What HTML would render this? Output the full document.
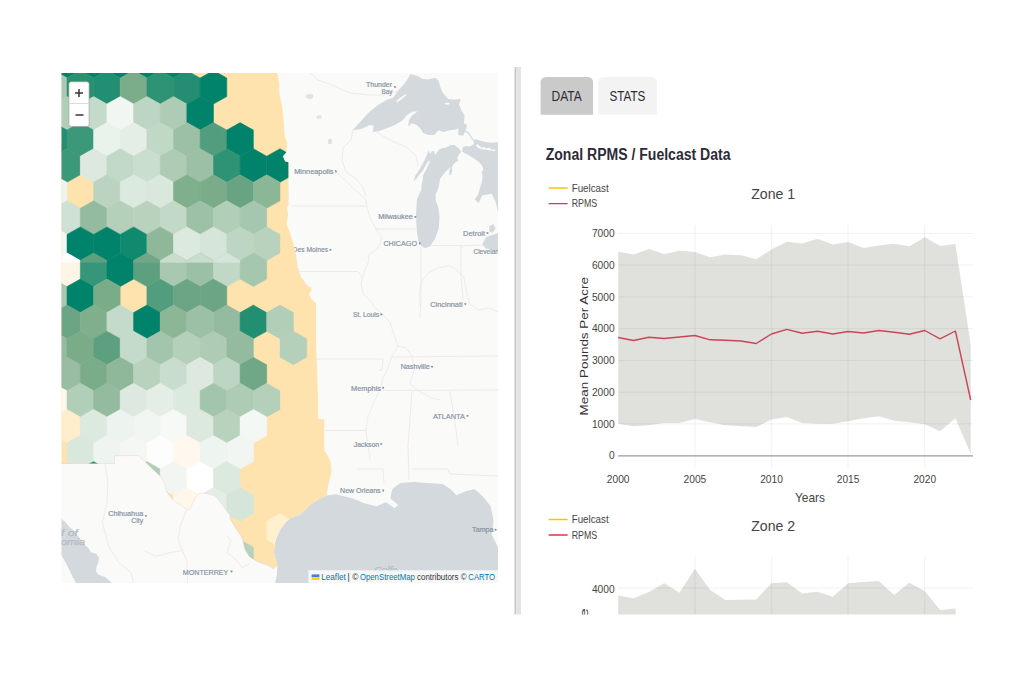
<!DOCTYPE html>
<html><head><meta charset="utf-8"><title>Zonal RPMS / Fuelcast</title>
<style>
html,body{margin:0;padding:0;background:#fff;}
body{width:1024px;height:683px;overflow:hidden;position:relative;font-family:"Liberation Sans",sans-serif;}
svg{position:absolute;left:0;top:0;}
text{font-family:"Liberation Sans",sans-serif;}
</style></head><body>

<svg width="1024" height="683" viewBox="0 0 1024 683">
<defs><clipPath id="mapclip"><rect x="61.5" y="73" width="436.6" height="509.9"/></clipPath>
<clipPath id="usclip"><polygon points="61.0,72.0 277.1,72.0 279.1,82.4 279.5,94.6 281.9,104.9 282.8,112.4 283.8,123.6 284.7,137.0 285.1,137.0 287.0,142.6 286.7,150.0 286.1,152.4 282.8,156.2 285.1,161.4 288.4,162.3 288.4,177.3 288.6,190.0 288.6,206.0 287.0,206.9 288.1,214.4 286.7,223.7 289.1,230.3 291.5,237.7 293.8,245.5 295.8,253.4 297.7,267.5 300.9,276.9 303.4,280.0 307.2,285.6 311.4,288.0 311.4,290.3 309.1,294.5 311.9,299.7 316.1,303.4 316.1,344.0 318.1,400.0 318.1,418.7 324.2,419.2 324.2,450.6 327.5,455.3 330.9,463.2 331.5,471.4 329.1,481.9 327.4,490.1 326.8,495.4 319.2,498.9 311.0,504.2 305.1,510.0 300.0,514.4 295.8,515.9 290.3,517.9 285.6,522.6 280.9,528.4 277.4,535.5 275.1,542.5 273.9,551.9 275.6,558.9 277.4,565.9 273.9,568.8 266.9,564.7 259.8,562.4 254.0,559.5 249.3,556.5 245.2,549.5 242.8,540.1 240.5,534.9 235.2,527.2 230.5,519.0 230.0,515.3 223.7,506.5 219.3,500.6 214.9,495.5 209.1,494.0 201.7,492.6 198.1,494.0 194.4,499.2 190.0,508.7 187.1,509.4 179.8,504.3 172.5,499.2 166.6,491.9 165.1,483.1 160.0,475.7 152.0,468.4 144.6,461.1 138.8,455.5 114.4,455.6 114.4,463.5 61.0,463.5"/></clipPath></defs>
<g clip-path="url(#mapclip)">
<rect x="61" y="72" width="438" height="512" fill="#FAFAF8"/>
<polygon points="353.3,129.6 360.4,121.7 368.2,113.1 377.6,105.3 387.0,99.8 393.3,97.4 398.0,90.4 402.7,85.7 407.4,79.4 410.5,73.9 418.4,76.3 421.5,78.6 427.8,79.4 435.6,77.8 438.7,81.0 440.3,87.2 443.4,93.5 448.2,99.0 454.4,99.8 460.7,99.0 459.1,104.5 461.5,110.8 464.6,115.5 463.8,123.3 467.0,124.9 465.4,131.1 463.0,135.8 458.3,135.0 458.3,128.0 456.0,129.6 449.7,130.3 443.4,131.9 438.7,130.3 434.0,135.0 427.8,135.0 423.1,132.7 419.9,128.0 416.8,124.9 412.1,123.3 408.2,126.4 409.0,120.2 412.1,115.5 417.6,111.5 412.9,111.5 407.4,114.7 402.7,120.2 394.9,124.9 385.5,128.8 379.2,131.1 372.9,131.9 373.7,125.6 369.8,124.9 361.9,128.8 353.3,130.3" fill="#D3D9DC"/>
<polygon points="428.7,150.2 425.4,158.1 423.6,161.9 420.7,167.5 417.9,172.2 415.1,175.9 413.7,181.1 416.1,179.2 419.3,174.5 422.2,171.2 425.4,166.1 428.2,161.4 430.1,160.0 429.4,162.8 426.8,168.4 424.5,172.7 422.8,175.9 423.1,178.7 421.7,184.4 421.2,190.0 419.3,194.0 416.8,200.0 416.0,215.7 416.8,231.3 418.4,240.8 421.5,246.2 425.4,248.3 430.1,246.2 434.8,239.2 438.8,228.2 439.5,215.7 438.0,206.3 435.6,200.0 435.7,194.0 437.2,190.9 438.6,187.2 439.5,182.5 440.0,178.7 442.3,175.9 445.1,172.2 447.9,169.4 450.3,166.6 449.3,170.3 449.3,174.5 450.7,175.0 452.2,171.2 451.7,167.5 453.1,164.7 455.4,162.3 458.2,160.9 457.3,157.2 459.2,154.4 461.1,151.6 458.2,147.8 454.5,145.0 450.7,145.0 447.0,147.3 442.3,148.3 439.5,149.2 437.2,152.0 434.8,155.3 434.3,151.6 432.0,151.1 430.1,154.2" fill="#D3D9DC"/>
<polygon points="462.9,146.9 462.0,151.6 467.6,154.4 473.2,158.1 478.9,161.9 482.6,166.6 483.6,170.3 481.7,171.2 482.6,176.9 481.7,182.5 479.8,188.1 478.4,194.0 474.8,199.4 478.5,203.1 482.2,195.6 491.6,193.8 495.4,201.2 498.6,214.0 498.6,142.2 492.0,142.7 486.4,142.2 478.9,140.3 476.1,139.4 473.2,139.7 474.0,144.0 470.0,146.5 466.0,146.0" fill="#D3D9DC"/>
<polygon points="489.5,226.0 493.5,224.0 495.5,229.0 492.0,233.0 489.0,231.0" fill="#D3D9DC"/>
<polygon points="482.2,244.4 486.0,236.9 498.5,233.0 498.5,251.0 486.0,248.5" fill="#D3D9DC"/>
<polygon points="326.8,495.4 335.6,494.2 342.6,496.0 352.1,498.2 364.2,503.2 376.2,506.2 386.3,502.2 394.3,508.2 398.3,505.2 390.3,498.2 392.3,489.1 400.3,483.1 414.3,482.1 426.4,483.1 442.4,484.1 450.5,489.1 456.5,495.2 466.5,491.1 474.5,489.1 482.6,496.2 490.6,506.2 493.6,520.2 491.6,534.3 498.5,548.3 498.5,584.0 275.0,584.0 276.8,575.3 277.4,565.9 275.6,558.9 273.9,551.9 275.1,542.5 277.4,535.5 280.9,528.4 285.6,522.6 290.3,517.9 295.8,515.9 300.0,514.4 305.1,510.0 311.0,504.2 319.2,498.9" fill="#D3D9DC"/>
<polygon points="61.0,518.6 65.6,522.2 69.4,526.9 75.0,531.6 78.8,537.2 84.4,544.7 88.1,547.5 90.9,552.2 96.6,554.0 98.9,557.8 98.4,562.5 96.6,566.2 96.1,570.9 98.0,574.5 105.1,577.0 113.0,584.0 76.5,584.0 71.2,574.0 69.4,570.0 65.6,562.5 61.0,554.5" fill="#D3D9DC"/>
<path d="M465.4 131.1 L469 133.5 L471 137 L473.2 139.9" fill="none" stroke="#D3D9DC" stroke-width="1.3"/>
<ellipse cx="309.7" cy="96.4" rx="3.6" ry="2.4" fill="#DEE3E5"/><ellipse cx="319.1" cy="117.1" rx="2.8" ry="1.9" fill="#E0E5E7"/><ellipse cx="330" cy="141.4" rx="2.1" ry="2.7" fill="#DCE1E4"/>
<polygon points="396.1,101.3 400.3,97.4 405.5,94.3 406.1,95.4 401.9,99.0 397.2,102.4" fill="#FAFAF8"/>
<polygon points="476.1,145.5 477.0,144.1 479.8,145.9 481.7,147.8 483.6,146.9 486.4,148.3 489.2,147.8 492.0,149.7 494.8,149.2 495.7,151.1 492.0,150.8 486.4,149.7 481.7,149.2 477.9,147.8" fill="#FAFAF8"/>
<ellipse cx="447" cy="103.8" rx="2.6" ry="1" fill="#FAFAF8"/>
<g fill="none" stroke="#EFDCDF" stroke-width="0.6">
<path d="M310 73 L318 80 L332 85 L350 93 L368 95 L385 95 L398 91"/>
<path d="M353 129.5 L351 140 L343 148 L342 160 L346 172 L355 178 L362 186 L366 196"/>
<path d="M376 132 L390 140 L406 147 L416 156 L418 166"/>
<path d="M292 206 L366 206"/><path d="M375 229 L416 229"/><path d="M292 271.5 L358 271.5 L362 277"/>
<path d="M421 248 L421 300 L420 318"/><path d="M430 245.5 L461 245.5 L461 275 L463 300"/><path d="M461 246 L482 245"/>
<path d="M316 359 L383 359 L382 370 L379 370"/><path d="M381 390.5 L498 390"/><path d="M392 357 L498 356"/>
<path d="M412 391 L408 446 L409 480"/><path d="M450 391 L456 430 L458 446"/>
<path d="M105.1 464.4 L107.9 483.1 L107.0 501.9 L102.3 522.5 L108.9 546.9 L118.3 561.9 L131.4 573.1 L133.3 583.1"/><path d="M144.5 550.6 L155.8 556.3 L170.8 552.5 L182.0 550.6 L186.7 560.0 L187.6 583.1"/><path d="M186.7 509.4 L180.1 526.3 L178.3 539.4 L182.0 550.6"/><path d="M227.0 535.6 L230.8 541.3 L227.0 552.5 L236.4 560.0 L242.0 567.5 L249.5 563.8"/>
<path d="M325 430.5 L366 430.5"/><path d="M357 469 L383 469 L384 483"/><path d="M412 469 L448 469 L450 474 L498 476"/>
</g>
<g fill="none" stroke="#E4E6E8" stroke-width="0.7">
<path d="M336 172 L345 180 L355 190 L362 196 L365.9 200 L367.4 209.4 L371.3 220.4 L376.8 229.8 L381.5 237.6 L380 245.5 L373.7 251.7 L368.2 254.9 L369 261.1 L365.1 269 L362.7 276.8 L361.2 284.6 L363.5 294 L371.3 301.9 L374.5 307 L380 312"/>
<path d="M380 312 L390 322 L394 335 L398 346 L392 356 L388 368 L383 378 L380 390 L374 402 L368 416 L366 430 L368 446 L370 460"/>
<path d="M420 307 L419.2 297.2 L420 287.8 L422.3 280 L427.8 273.7 L437.2 268.2 L448.2 265.8 L456 269 L461.5 275.2 L463.8 276.8 L466 290 L470 304 L478 310 L490 308 L498 312"/>
<path d="M398 346 L406 348 L412 356 L414 370 L410 384 L420 392 L432 398 L440 400"/>
</g>
<g fill="#8490A2" font-size="7.2" stroke="#8490A2" stroke-width="0.18">
<text x="366.0" y="86.8" font-size="7.2" textLength="26.0" lengthAdjust="spacingAndGlyphs">Thunder</text>
<rect x="394.4" y="86.3" width="1.5" height="1.5" fill="#7E8A9C"/>
<text x="381.6" y="94.4" font-size="7.2" textLength="10.9" lengthAdjust="spacingAndGlyphs">Bay</text>
<text x="294.2" y="174.4" font-size="7.2" textLength="39.3" lengthAdjust="spacingAndGlyphs">Minneapolis</text>
<rect x="335.2" y="170.8" width="1.5" height="1.5" fill="#7E8A9C"/>
<text x="378.2" y="219.3" font-size="7.2" textLength="34.7" lengthAdjust="spacingAndGlyphs">Milwaukee</text>
<rect x="414.6" y="216.1" width="1.5" height="1.5" fill="#7E8A9C"/>
<text x="383.4" y="246.3" font-size="7.8" textLength="33.6" lengthAdjust="spacingAndGlyphs">CHICAGO</text>
<rect x="419.1" y="242.7" width="1.5" height="1.5" fill="#7E8A9C"/>
<text x="463.1" y="235.6" font-size="7.2" textLength="21.9" lengthAdjust="spacingAndGlyphs">Detroit</text>
<rect x="486.8" y="232.3" width="1.5" height="1.5" fill="#7E8A9C"/>
<text x="473.4" y="254.4" font-size="7.2" textLength="25.6" lengthAdjust="spacingAndGlyphs">Clevelan</text>
<text x="292.6" y="252.4" font-size="7.4" textLength="35.5" lengthAdjust="spacingAndGlyphs">Des Moines</text>
<rect x="329.8" y="249.1" width="1.5" height="1.5" fill="#7E8A9C"/>
<text x="430.3" y="306.9" font-size="7.2" textLength="32.3" lengthAdjust="spacingAndGlyphs">Cincinnati</text>
<rect x="464.6" y="303.2" width="1.5" height="1.5" fill="#7E8A9C"/>
<text x="352.9" y="317.2" font-size="7.2" textLength="26.2" lengthAdjust="spacingAndGlyphs">St. Louis</text>
<rect x="380.6" y="313.6" width="1.5" height="1.5" fill="#7E8A9C"/>
<text x="400.7" y="369.2" font-size="7.2" textLength="29.1" lengthAdjust="spacingAndGlyphs">Nashville</text>
<rect x="431.4" y="366.0" width="1.5" height="1.5" fill="#7E8A9C"/>
<text x="351.0" y="390.5" font-size="7.2" textLength="30.0" lengthAdjust="spacingAndGlyphs">Memphis</text>
<rect x="382.5" y="387.0" width="1.5" height="1.5" fill="#7E8A9C"/>
<text x="432.9" y="418.7" font-size="7.8" textLength="32.1" lengthAdjust="spacingAndGlyphs">ATLANTA</text>
<rect x="466.9" y="415.1" width="1.5" height="1.5" fill="#7E8A9C"/>
<text x="353.8" y="446.5" font-size="7.2" textLength="25.3" lengthAdjust="spacingAndGlyphs">Jackson</text>
<rect x="380.6" y="443.2" width="1.5" height="1.5" fill="#7E8A9C"/>
<text x="340.1" y="493.0" font-size="7.2" textLength="40.5" lengthAdjust="spacingAndGlyphs">New Orleans</text>
<rect x="382.5" y="489.8" width="1.5" height="1.5" fill="#7E8A9C"/>
<text x="472.1" y="532.2" font-size="7.2" textLength="21.5" lengthAdjust="spacingAndGlyphs">Tampa</text>
<rect x="494.9" y="529.0" width="1.5" height="1.5" fill="#7E8A9C"/>
<text x="108.2" y="515.6" font-size="7.2" textLength="35.0" lengthAdjust="spacingAndGlyphs">Chihuahua</text>
<rect x="145.2" y="515.2" width="1.5" height="1.5" fill="#7E8A9C"/>
<text x="131.2" y="523.3" font-size="7.2" textLength="12.0" lengthAdjust="spacingAndGlyphs">City</text>
<text x="182.8" y="574.8" font-size="7.8" textLength="45.5" lengthAdjust="spacingAndGlyphs">MONTERREY</text>
<rect x="230.8" y="570.8" width="1.5" height="1.5" fill="#7E8A9C"/>
</g>
<g fill="#B2BCC6" stroke="#B2BCC6" stroke-width="0.25" font-size="8.5" font-style="italic">
<text x="58" y="535.5" textLength="20" lengthAdjust="spacingAndGlyphs">lf of</text>
<text x="61" y="545" textLength="24" lengthAdjust="spacingAndGlyphs">ornia</text>
<text x="374.2" y="573.4" font-size="9.5" textLength="23.5" lengthAdjust="spacingAndGlyphs">Golfo</text>
</g>
<polygon points="61.0,72.0 277.1,72.0 279.1,82.4 279.5,94.6 281.9,104.9 282.8,112.4 283.8,123.6 284.7,137.0 285.1,137.0 287.0,142.6 286.7,150.0 286.1,152.4 282.8,156.2 285.1,161.4 288.4,162.3 288.4,177.3 288.6,190.0 288.6,206.0 287.0,206.9 288.1,214.4 286.7,223.7 289.1,230.3 291.5,237.7 293.8,245.5 295.8,253.4 297.7,267.5 300.9,276.9 303.4,280.0 307.2,285.6 311.4,288.0 311.4,290.3 309.1,294.5 311.9,299.7 316.1,303.4 316.1,344.0 318.1,400.0 318.1,418.7 324.2,419.2 324.2,450.6 327.5,455.3 330.9,463.2 331.5,471.4 329.1,481.9 327.4,490.1 326.8,495.4 319.2,498.9 311.0,504.2 305.1,510.0 300.0,514.4 295.8,515.9 290.3,517.9 285.6,522.6 280.9,528.4 277.4,535.5 275.1,542.5 273.9,551.9 275.6,558.9 277.4,565.9 273.9,568.8 266.9,564.7 259.8,562.4 254.0,559.5 249.3,556.5 245.2,549.5 242.8,540.1 240.5,534.9 235.2,527.2 230.5,519.0 230.0,515.3 223.7,506.5 219.3,500.6 214.9,495.5 209.1,494.0 201.7,492.6 198.1,494.0 194.4,499.2 190.0,508.7 187.1,509.4 179.8,504.3 172.5,499.2 166.6,491.9 165.1,483.1 160.0,475.7 152.0,468.4 144.6,461.1 138.8,455.5 114.4,455.6 114.4,463.5 61.0,463.5" fill="#FFE3AE"/>
<polyline points="273.9,568.8 266.9,564.7 259.8,562.4 254.0,559.5 249.3,556.5 245.2,549.5 242.8,540.1 240.5,534.9 235.2,527.2 230.5,519.0 230.0,515.3 223.7,506.5 219.3,500.6 214.9,495.5 209.1,494.0 201.7,492.6 198.1,494.0 194.4,499.2 190.0,508.7 187.1,509.4 179.8,504.3 172.5,499.2 166.6,491.9 165.1,483.1 160.0,475.7 152.0,468.4 144.6,461.1 138.8,455.5 114.4,455.6 114.4,463.5 61.0,463.5" fill="none" stroke="#EBCFD3" stroke-width="0.7"/>
<g clip-path="url(#usclip)">
<polygon points="40.4,44.4 53.7,51.9 53.7,70.5 40.4,78.0 27.1,70.5 27.1,51.9" fill="#A9C9B2" stroke="#A9C9B2" stroke-width="0.5"/>
<polygon points="67.0,44.4 80.3,51.9 80.3,70.5 67.0,78.0 53.7,70.5 53.7,51.9" fill="#00836A" stroke="#00836A" stroke-width="0.5"/>
<polygon points="93.6,44.4 106.9,51.9 106.9,70.5 93.6,78.0 80.3,70.5 80.3,51.9" fill="#00836A" stroke="#00836A" stroke-width="0.5"/>
<polygon points="120.3,44.4 133.6,51.9 133.6,70.5 120.3,78.0 106.9,70.5 106.9,51.9" fill="#00836A" stroke="#00836A" stroke-width="0.5"/>
<polygon points="146.9,44.4 160.2,51.9 160.2,70.5 146.9,78.0 133.6,70.5 133.6,51.9" fill="#00836A" stroke="#00836A" stroke-width="0.5"/>
<polygon points="173.5,44.4 186.8,51.9 186.8,70.5 173.5,78.0 160.2,70.5 160.2,51.9" fill="#00836A" stroke="#00836A" stroke-width="0.5"/>
<polygon points="53.7,70.5 67.0,78.0 67.0,96.6 53.7,104.1 40.4,96.6 40.4,78.0" fill="#A9C9B2" stroke="#A9C9B2" stroke-width="0.5"/>
<polygon points="80.3,70.5 93.6,78.0 93.6,96.6 80.3,104.1 67.0,96.6 67.0,78.0" fill="#2A9070" stroke="#2A9070" stroke-width="0.5"/>
<polygon points="106.9,70.5 120.2,78.0 120.2,96.6 106.9,104.1 93.6,96.6 93.6,78.0" fill="#228E72" stroke="#228E72" stroke-width="0.5"/>
<polygon points="133.6,70.5 146.9,78.0 146.9,96.6 133.6,104.1 120.2,96.6 120.2,78.0" fill="#7BAD8A" stroke="#7BAD8A" stroke-width="0.5"/>
<polygon points="160.2,70.5 173.5,78.0 173.5,96.6 160.2,104.1 146.9,96.6 146.9,78.0" fill="#2E9274" stroke="#2E9274" stroke-width="0.5"/>
<polygon points="186.8,70.5 200.1,78.0 200.1,96.6 186.8,104.1 173.5,96.6 173.5,78.0" fill="#258E72" stroke="#258E72" stroke-width="0.5"/>
<polygon points="213.4,70.5 226.8,78.0 226.8,96.6 213.4,104.1 200.1,96.6 200.1,78.0" fill="#00836A" stroke="#00836A" stroke-width="0.5"/>
<polygon points="67.0,96.6 80.3,104.1 80.3,122.6 67.0,130.1 53.7,122.6 53.7,104.1" fill="#B0CEB8" stroke="#B0CEB8" stroke-width="0.5"/>
<polygon points="93.6,96.6 106.9,104.1 106.9,122.6 93.6,130.1 80.3,122.6 80.3,104.1" fill="#C4DACB" stroke="#C4DACB" stroke-width="0.5"/>
<polygon points="120.3,96.6 133.6,104.1 133.6,122.6 120.3,130.1 106.9,122.6 106.9,104.1" fill="#F1F6F2" stroke="#F1F6F2" stroke-width="0.5"/>
<polygon points="146.9,96.6 160.2,104.1 160.2,122.6 146.9,130.1 133.6,122.6 133.6,104.1" fill="#BDD6C3" stroke="#BDD6C3" stroke-width="0.5"/>
<polygon points="173.5,96.6 186.8,104.1 186.8,122.6 173.5,130.1 160.2,122.6 160.2,104.1" fill="#ADCBB5" stroke="#ADCBB5" stroke-width="0.5"/>
<polygon points="200.2,96.6 213.5,104.1 213.5,122.6 200.2,130.1 186.8,122.6 186.8,104.1" fill="#00836A" stroke="#00836A" stroke-width="0.5"/>
<polygon points="53.7,122.6 67.0,130.1 67.0,148.7 53.7,156.2 40.4,148.7 40.4,130.1" fill="#228E72" stroke="#228E72" stroke-width="0.5"/>
<polygon points="80.3,122.6 93.6,130.1 93.6,148.7 80.3,156.2 67.0,148.7 67.0,130.1" fill="#3B9878" stroke="#3B9878" stroke-width="0.5"/>
<polygon points="106.9,122.6 120.2,130.1 120.2,148.7 106.9,156.2 93.6,148.7 93.6,130.1" fill="#EAF2EC" stroke="#EAF2EC" stroke-width="0.5"/>
<polygon points="133.6,122.6 146.9,130.1 146.9,148.7 133.6,156.2 120.2,148.7 120.2,130.1" fill="#E4EEE6" stroke="#E4EEE6" stroke-width="0.5"/>
<polygon points="160.2,122.6 173.5,130.1 173.5,148.7 160.2,156.2 146.9,148.7 146.9,130.1" fill="#C0D8C6" stroke="#C0D8C6" stroke-width="0.5"/>
<polygon points="186.8,122.6 200.1,130.1 200.1,148.7 186.8,156.2 173.5,148.7 173.5,130.1" fill="#9CC0A6" stroke="#9CC0A6" stroke-width="0.5"/>
<polygon points="213.4,122.6 226.8,130.1 226.8,148.7 213.4,156.2 200.1,148.7 200.1,130.1" fill="#529D7E" stroke="#529D7E" stroke-width="0.5"/>
<polygon points="240.1,122.6 253.4,130.1 253.4,148.7 240.1,156.2 226.8,148.7 226.8,130.1" fill="#00836A" stroke="#00836A" stroke-width="0.5"/>
<polygon points="67.0,148.7 80.3,156.2 80.3,174.8 67.0,182.3 53.7,174.8 53.7,156.2" fill="#3B9878" stroke="#3B9878" stroke-width="0.5"/>
<polygon points="93.6,148.7 106.9,156.2 106.9,174.8 93.6,182.3 80.3,174.8 80.3,156.2" fill="#DDE9E0" stroke="#DDE9E0" stroke-width="0.5"/>
<polygon points="120.3,148.7 133.6,156.2 133.6,174.8 120.3,182.3 106.9,174.8 106.9,156.2" fill="#C2D9C8" stroke="#C2D9C8" stroke-width="0.5"/>
<polygon points="146.9,148.7 160.2,156.2 160.2,174.8 146.9,182.3 133.6,174.8 133.6,156.2" fill="#CADED0" stroke="#CADED0" stroke-width="0.5"/>
<polygon points="173.5,148.7 186.8,156.2 186.8,174.8 173.5,182.3 160.2,174.8 160.2,156.2" fill="#ADCBB5" stroke="#ADCBB5" stroke-width="0.5"/>
<polygon points="200.2,148.7 213.5,156.2 213.5,174.8 200.2,182.3 186.8,174.8 186.8,156.2" fill="#9CC0A6" stroke="#9CC0A6" stroke-width="0.5"/>
<polygon points="226.8,148.7 240.1,156.2 240.1,174.8 226.8,182.3 213.5,174.8 213.5,156.2" fill="#2E9274" stroke="#2E9274" stroke-width="0.5"/>
<polygon points="253.4,148.7 266.7,156.2 266.7,174.8 253.4,182.3 240.1,174.8 240.1,156.2" fill="#00836A" stroke="#00836A" stroke-width="0.5"/>
<polygon points="280.0,148.7 293.4,156.2 293.4,174.8 280.0,182.3 266.7,174.8 266.7,156.2" fill="#00836A" stroke="#00836A" stroke-width="0.5"/>
<polygon points="53.7,174.8 67.0,182.3 67.0,200.8 53.7,208.3 40.4,200.8 40.4,182.3" fill="#EDF3EE" stroke="#EDF3EE" stroke-width="0.5"/>
<polygon points="106.9,174.8 120.2,182.3 120.2,200.8 106.9,208.3 93.6,200.8 93.6,182.3" fill="#BAD4C1" stroke="#BAD4C1" stroke-width="0.5"/>
<polygon points="133.6,174.8 146.9,182.3 146.9,200.8 133.6,208.3 120.2,200.8 120.2,182.3" fill="#DCE9DF" stroke="#DCE9DF" stroke-width="0.5"/>
<polygon points="160.2,174.8 173.5,182.3 173.5,200.8 160.2,208.3 146.9,200.8 146.9,182.3" fill="#D9E7DC" stroke="#D9E7DC" stroke-width="0.5"/>
<polygon points="186.8,174.8 200.1,182.3 200.1,200.8 186.8,208.3 173.5,200.8 173.5,182.3" fill="#7FAF8D" stroke="#7FAF8D" stroke-width="0.5"/>
<polygon points="213.4,174.8 226.8,182.3 226.8,200.8 213.4,208.3 200.1,200.8 200.1,182.3" fill="#7BAC89" stroke="#7BAC89" stroke-width="0.5"/>
<polygon points="240.1,174.8 253.4,182.3 253.4,200.8 240.1,208.3 226.8,200.8 226.8,182.3" fill="#68A484" stroke="#68A484" stroke-width="0.5"/>
<polygon points="266.7,174.8 280.0,182.3 280.0,200.8 266.7,208.3 253.4,200.8 253.4,182.3" fill="#8CB797" stroke="#8CB797" stroke-width="0.5"/>
<polygon points="67.0,200.8 80.3,208.3 80.3,226.9 67.0,234.4 53.7,226.9 53.7,208.3" fill="#CFE1D4" stroke="#CFE1D4" stroke-width="0.5"/>
<polygon points="93.6,200.8 106.9,208.3 106.9,226.9 93.6,234.4 80.3,226.9 80.3,208.3" fill="#94BB9F" stroke="#94BB9F" stroke-width="0.5"/>
<polygon points="120.3,200.8 133.6,208.3 133.6,226.9 120.3,234.4 106.9,226.9 106.9,208.3" fill="#B4D0BB" stroke="#B4D0BB" stroke-width="0.5"/>
<polygon points="146.9,200.8 160.2,208.3 160.2,226.9 146.9,234.4 133.6,226.9 133.6,208.3" fill="#B8D2BE" stroke="#B8D2BE" stroke-width="0.5"/>
<polygon points="173.5,200.8 186.8,208.3 186.8,226.9 173.5,234.4 160.2,226.9 160.2,208.3" fill="#C2D9C8" stroke="#C2D9C8" stroke-width="0.5"/>
<polygon points="200.2,200.8 213.5,208.3 213.5,226.9 200.2,234.4 186.8,226.9 186.8,208.3" fill="#9DC1A7" stroke="#9DC1A7" stroke-width="0.5"/>
<polygon points="226.8,200.8 240.1,208.3 240.1,226.9 226.8,234.4 213.5,226.9 213.5,208.3" fill="#B0CEB8" stroke="#B0CEB8" stroke-width="0.5"/>
<polygon points="253.4,200.8 266.7,208.3 266.7,226.9 253.4,234.4 240.1,226.9 240.1,208.3" fill="#A6C7AF" stroke="#A6C7AF" stroke-width="0.5"/>
<polygon points="53.7,226.9 67.0,234.4 67.0,253.0 53.7,260.5 40.4,253.0 40.4,234.4" fill="#F4F8F5" stroke="#F4F8F5" stroke-width="0.5"/>
<polygon points="80.3,226.9 93.6,234.4 93.6,253.0 80.3,260.5 67.0,253.0 67.0,234.4" fill="#00836A" stroke="#00836A" stroke-width="0.5"/>
<polygon points="106.9,226.9 120.2,234.4 120.2,253.0 106.9,260.5 93.6,253.0 93.6,234.4" fill="#00836A" stroke="#00836A" stroke-width="0.5"/>
<polygon points="133.6,226.9 146.9,234.4 146.9,253.0 133.6,260.5 120.2,253.0 120.2,234.4" fill="#108A6E" stroke="#108A6E" stroke-width="0.5"/>
<polygon points="160.2,226.9 173.5,234.4 173.5,253.0 160.2,260.5 146.9,253.0 146.9,234.4" fill="#8FB89A" stroke="#8FB89A" stroke-width="0.5"/>
<polygon points="186.8,226.9 200.1,234.4 200.1,253.0 186.8,260.5 173.5,253.0 173.5,234.4" fill="#DCE9DF" stroke="#DCE9DF" stroke-width="0.5"/>
<polygon points="213.4,226.9 226.8,234.4 226.8,253.0 213.4,260.5 200.1,253.0 200.1,234.4" fill="#D5E5D9" stroke="#D5E5D9" stroke-width="0.5"/>
<polygon points="240.1,226.9 253.4,234.4 253.4,253.0 240.1,260.5 226.8,253.0 226.8,234.4" fill="#BDD6C3" stroke="#BDD6C3" stroke-width="0.5"/>
<polygon points="266.7,226.9 280.0,234.4 280.0,253.0 266.7,260.5 253.4,253.0 253.4,234.4" fill="#B8D2BE" stroke="#B8D2BE" stroke-width="0.5"/>
<polygon points="67.0,253.0 80.3,260.5 80.3,279.1 67.0,286.6 53.7,279.1 53.7,260.5" fill="#FFF5E6" stroke="#FFF5E6" stroke-width="0.5"/>
<polygon points="93.6,253.0 106.9,260.5 106.9,279.1 93.6,286.6 80.3,279.1 80.3,260.5" fill="#36967A" stroke="#36967A" stroke-width="0.5"/>
<polygon points="120.3,253.0 133.6,260.5 133.6,279.1 120.3,286.6 106.9,279.1 106.9,260.5" fill="#00836A" stroke="#00836A" stroke-width="0.5"/>
<polygon points="146.9,253.0 160.2,260.5 160.2,279.1 146.9,286.6 133.6,279.1 133.6,260.5" fill="#5DA080" stroke="#5DA080" stroke-width="0.5"/>
<polygon points="173.5,253.0 186.8,260.5 186.8,279.1 173.5,286.6 160.2,279.1 160.2,260.5" fill="#A8C8B1" stroke="#A8C8B1" stroke-width="0.5"/>
<polygon points="200.2,253.0 213.5,260.5 213.5,279.1 200.2,286.6 186.8,279.1 186.8,260.5" fill="#9CC0A6" stroke="#9CC0A6" stroke-width="0.5"/>
<polygon points="226.8,253.0 240.1,260.5 240.1,279.1 226.8,286.6 213.5,279.1 213.5,260.5" fill="#C0D8C6" stroke="#C0D8C6" stroke-width="0.5"/>
<polygon points="253.4,253.0 266.7,260.5 266.7,279.1 253.4,286.6 240.1,279.1 240.1,260.5" fill="#A6C7AF" stroke="#A6C7AF" stroke-width="0.5"/>
<polygon points="53.7,279.1 67.0,286.6 67.0,305.1 53.7,312.6 40.4,305.1 40.4,286.6" fill="#A8C8B1" stroke="#A8C8B1" stroke-width="0.5"/>
<polygon points="80.3,279.1 93.6,286.6 93.6,305.1 80.3,312.6 67.0,305.1 67.0,286.6" fill="#00836A" stroke="#00836A" stroke-width="0.5"/>
<polygon points="106.9,279.1 120.2,286.6 120.2,305.1 106.9,312.6 93.6,305.1 93.6,286.6" fill="#7BAC89" stroke="#7BAC89" stroke-width="0.5"/>
<polygon points="160.2,279.1 173.5,286.6 173.5,305.1 160.2,312.6 146.9,305.1 146.9,286.6" fill="#529D7E" stroke="#529D7E" stroke-width="0.5"/>
<polygon points="186.8,279.1 200.1,286.6 200.1,305.1 186.8,312.6 173.5,305.1 173.5,286.6" fill="#6BA585" stroke="#6BA585" stroke-width="0.5"/>
<polygon points="213.4,279.1 226.8,286.6 226.8,305.1 213.4,312.6 200.1,305.1 200.1,286.6" fill="#6BA585" stroke="#6BA585" stroke-width="0.5"/>
<polygon points="67.0,305.1 80.3,312.6 80.3,331.2 67.0,338.7 53.7,331.2 53.7,312.6" fill="#6BA585" stroke="#6BA585" stroke-width="0.5"/>
<polygon points="93.6,305.1 106.9,312.6 106.9,331.2 93.6,338.7 80.3,331.2 80.3,312.6" fill="#7FAF8D" stroke="#7FAF8D" stroke-width="0.5"/>
<polygon points="120.3,305.1 133.6,312.6 133.6,331.2 120.3,338.7 106.9,331.2 106.9,312.6" fill="#C4DACB" stroke="#C4DACB" stroke-width="0.5"/>
<polygon points="146.9,305.1 160.2,312.6 160.2,331.2 146.9,338.7 133.6,331.2 133.6,312.6" fill="#00836A" stroke="#00836A" stroke-width="0.5"/>
<polygon points="173.5,305.1 186.8,312.6 186.8,331.2 173.5,338.7 160.2,331.2 160.2,312.6" fill="#8CB797" stroke="#8CB797" stroke-width="0.5"/>
<polygon points="200.2,305.1 213.5,312.6 213.5,331.2 200.2,338.7 186.8,331.2 186.8,312.6" fill="#9CC0A6" stroke="#9CC0A6" stroke-width="0.5"/>
<polygon points="226.8,305.1 240.1,312.6 240.1,331.2 226.8,338.7 213.5,331.2 213.5,312.6" fill="#94BB9F" stroke="#94BB9F" stroke-width="0.5"/>
<polygon points="253.4,305.1 266.7,312.6 266.7,331.2 253.4,338.7 240.1,331.2 240.1,312.6" fill="#228E72" stroke="#228E72" stroke-width="0.5"/>
<polygon points="280.0,305.1 293.4,312.6 293.4,331.2 280.0,338.7 266.7,331.2 266.7,312.6" fill="#B0CEB8" stroke="#B0CEB8" stroke-width="0.5"/>
<polygon points="53.7,331.2 67.0,338.7 67.0,357.3 53.7,364.8 40.4,357.3 40.4,338.7" fill="#94BB9F" stroke="#94BB9F" stroke-width="0.5"/>
<polygon points="80.3,331.2 93.6,338.7 93.6,357.3 80.3,364.8 67.0,357.3 67.0,338.7" fill="#7BAC89" stroke="#7BAC89" stroke-width="0.5"/>
<polygon points="106.9,331.2 120.2,338.7 120.2,357.3 106.9,364.8 93.6,357.3 93.6,338.7" fill="#5DA080" stroke="#5DA080" stroke-width="0.5"/>
<polygon points="133.6,331.2 146.9,338.7 146.9,357.3 133.6,364.8 120.2,357.3 120.2,338.7" fill="#C4DACB" stroke="#C4DACB" stroke-width="0.5"/>
<polygon points="160.2,331.2 173.5,338.7 173.5,357.3 160.2,364.8 146.9,357.3 146.9,338.7" fill="#A4C5AD" stroke="#A4C5AD" stroke-width="0.5"/>
<polygon points="186.8,331.2 200.1,338.7 200.1,357.3 186.8,364.8 173.5,357.3 173.5,338.7" fill="#B4D0BB" stroke="#B4D0BB" stroke-width="0.5"/>
<polygon points="213.4,331.2 226.8,338.7 226.8,357.3 213.4,364.8 200.1,357.3 200.1,338.7" fill="#ADCBB5" stroke="#ADCBB5" stroke-width="0.5"/>
<polygon points="240.1,331.2 253.4,338.7 253.4,357.3 240.1,364.8 226.8,357.3 226.8,338.7" fill="#94BB9F" stroke="#94BB9F" stroke-width="0.5"/>
<polygon points="293.3,331.2 306.7,338.7 306.7,357.3 293.3,364.8 280.0,357.3 280.0,338.7" fill="#B4D0BB" stroke="#B4D0BB" stroke-width="0.5"/>
<polygon points="67.0,357.3 80.3,364.8 80.3,383.3 67.0,390.8 53.7,383.3 53.7,364.8" fill="#98BDA3" stroke="#98BDA3" stroke-width="0.5"/>
<polygon points="93.6,357.3 106.9,364.8 106.9,383.3 93.6,390.8 80.3,383.3 80.3,364.8" fill="#7BAC89" stroke="#7BAC89" stroke-width="0.5"/>
<polygon points="120.3,357.3 133.6,364.8 133.6,383.3 120.3,390.8 106.9,383.3 106.9,364.8" fill="#8FB89A" stroke="#8FB89A" stroke-width="0.5"/>
<polygon points="146.9,357.3 160.2,364.8 160.2,383.3 146.9,390.8 133.6,383.3 133.6,364.8" fill="#B8D2BE" stroke="#B8D2BE" stroke-width="0.5"/>
<polygon points="173.5,357.3 186.8,364.8 186.8,383.3 173.5,390.8 160.2,383.3 160.2,364.8" fill="#C8DDCD" stroke="#C8DDCD" stroke-width="0.5"/>
<polygon points="200.2,357.3 213.5,364.8 213.5,383.3 200.2,390.8 186.8,383.3 186.8,364.8" fill="#DDE9E0" stroke="#DDE9E0" stroke-width="0.5"/>
<polygon points="226.8,357.3 240.1,364.8 240.1,383.3 226.8,390.8 213.5,383.3 213.5,364.8" fill="#BDD6C3" stroke="#BDD6C3" stroke-width="0.5"/>
<polygon points="253.4,357.3 266.7,364.8 266.7,383.3 253.4,390.8 240.1,383.3 240.1,364.8" fill="#6FA787" stroke="#6FA787" stroke-width="0.5"/>
<polygon points="53.7,383.3 67.0,390.8 67.0,409.4 53.7,416.9 40.4,409.4 40.4,390.8" fill="#FFF8EC" stroke="#FFF8EC" stroke-width="0.5"/>
<polygon points="80.3,383.3 93.6,390.8 93.6,409.4 80.3,416.9 67.0,409.4 67.0,390.8" fill="#B0CEB8" stroke="#B0CEB8" stroke-width="0.5"/>
<polygon points="106.9,383.3 120.2,390.8 120.2,409.4 106.9,416.9 93.6,409.4 93.6,390.8" fill="#94BB9F" stroke="#94BB9F" stroke-width="0.5"/>
<polygon points="133.6,383.3 146.9,390.8 146.9,409.4 133.6,416.9 120.2,409.4 120.2,390.8" fill="#DDE9E0" stroke="#DDE9E0" stroke-width="0.5"/>
<polygon points="160.2,383.3 173.5,390.8 173.5,409.4 160.2,416.9 146.9,409.4 146.9,390.8" fill="#E4EEE6" stroke="#E4EEE6" stroke-width="0.5"/>
<polygon points="186.8,383.3 200.1,390.8 200.1,409.4 186.8,416.9 173.5,409.4 173.5,390.8" fill="#DCE9DF" stroke="#DCE9DF" stroke-width="0.5"/>
<polygon points="213.4,383.3 226.8,390.8 226.8,409.4 213.4,416.9 200.1,409.4 200.1,390.8" fill="#A4C5AD" stroke="#A4C5AD" stroke-width="0.5"/>
<polygon points="240.1,383.3 253.4,390.8 253.4,409.4 240.1,416.9 226.8,409.4 226.8,390.8" fill="#ADCBB5" stroke="#ADCBB5" stroke-width="0.5"/>
<polygon points="266.7,383.3 280.0,390.8 280.0,409.4 266.7,416.9 253.4,409.4 253.4,390.8" fill="#B4D0BB" stroke="#B4D0BB" stroke-width="0.5"/>
<polygon points="67.0,409.4 80.3,416.9 80.3,435.5 67.0,443.0 53.7,435.5 53.7,416.9" fill="#FFEDCB" stroke="#FFEDCB" stroke-width="0.5"/>
<polygon points="93.6,409.4 106.9,416.9 106.9,435.5 93.6,443.0 80.3,435.5 80.3,416.9" fill="#DCE9DF" stroke="#DCE9DF" stroke-width="0.5"/>
<polygon points="120.3,409.4 133.6,416.9 133.6,435.5 120.3,443.0 106.9,435.5 106.9,416.9" fill="#EDF3EE" stroke="#EDF3EE" stroke-width="0.5"/>
<polygon points="146.9,409.4 160.2,416.9 160.2,435.5 146.9,443.0 133.6,435.5 133.6,416.9" fill="#F1F6F2" stroke="#F1F6F2" stroke-width="0.5"/>
<polygon points="173.5,409.4 186.8,416.9 186.8,435.5 173.5,443.0 160.2,435.5 160.2,416.9" fill="#F6F9F6" stroke="#F6F9F6" stroke-width="0.5"/>
<polygon points="200.2,409.4 213.5,416.9 213.5,435.5 200.2,443.0 186.8,435.5 186.8,416.9" fill="#DCE9DF" stroke="#DCE9DF" stroke-width="0.5"/>
<polygon points="226.8,409.4 240.1,416.9 240.1,435.5 226.8,443.0 213.5,435.5 213.5,416.9" fill="#B8D2BE" stroke="#B8D2BE" stroke-width="0.5"/>
<polygon points="253.4,409.4 266.7,416.9 266.7,435.5 253.4,443.0 240.1,435.5 240.1,416.9" fill="#F4F8F5" stroke="#F4F8F5" stroke-width="0.5"/>
<polygon points="80.3,435.5 93.6,443.0 93.6,461.6 80.3,469.1 67.0,461.6 67.0,443.0" fill="#DAE7DD" stroke="#DAE7DD" stroke-width="0.5"/>
<polygon points="106.9,435.5 120.2,443.0 120.2,461.6 106.9,469.1 93.6,461.6 93.6,443.0" fill="#EEF4EF" stroke="#EEF4EF" stroke-width="0.5"/>
<polygon points="133.6,435.5 146.9,443.0 146.9,461.6 133.6,469.1 120.2,461.6 120.2,443.0" fill="#F4F7F4" stroke="#F4F7F4" stroke-width="0.5"/>
<polygon points="160.2,435.5 173.5,443.0 173.5,461.6 160.2,469.1 146.9,461.6 146.9,443.0" fill="#FDFDFD" stroke="#FDFDFD" stroke-width="0.5"/>
<polygon points="186.8,435.5 200.1,443.0 200.1,461.6 186.8,469.1 173.5,461.6 173.5,443.0" fill="#FFF8EF" stroke="#FFF8EF" stroke-width="0.5"/>
<polygon points="213.4,435.5 226.8,443.0 226.8,461.6 213.4,469.1 200.1,461.6 200.1,443.0" fill="#EEF4F0" stroke="#EEF4F0" stroke-width="0.5"/>
<polygon points="240.1,435.5 253.4,443.0 253.4,461.6 240.1,469.1 226.8,461.6 226.8,443.0" fill="#F1F6F2" stroke="#F1F6F2" stroke-width="0.5"/>
<polygon points="93.6,461.6 106.9,469.1 106.9,487.6 93.6,495.1 80.3,487.6 80.3,469.1" fill="#2E9274" stroke="#2E9274" stroke-width="0.5"/>
<polygon points="146.9,461.6 160.2,469.1 160.2,487.6 146.9,495.1 133.6,487.6 133.6,469.1" fill="#B0CEB8" stroke="#B0CEB8" stroke-width="0.5"/>
<polygon points="173.5,461.6 186.8,469.1 186.8,487.6 173.5,495.1 160.2,487.6 160.2,469.1" fill="#F2F6F3" stroke="#F2F6F3" stroke-width="0.5"/>
<polygon points="200.2,461.6 213.5,469.1 213.5,487.6 200.2,495.1 186.8,487.6 186.8,469.1" fill="#FFFFFF" stroke="#FFFFFF" stroke-width="0.5"/>
<polygon points="226.8,461.6 240.1,469.1 240.1,487.6 226.8,495.1 213.5,487.6 213.5,469.1" fill="#DCE9DF" stroke="#DCE9DF" stroke-width="0.5"/>
<polygon points="186.8,487.6 200.1,495.1 200.1,513.7 186.8,521.2 173.5,513.7 173.5,495.1" fill="#FFF7EA" stroke="#FFF7EA" stroke-width="0.5"/>
<polygon points="213.4,487.6 226.8,495.1 226.8,513.7 213.4,521.2 200.1,513.7 200.1,495.1" fill="#E4EEE6" stroke="#E4EEE6" stroke-width="0.5"/>
<polygon points="240.1,487.6 253.4,495.1 253.4,513.7 240.1,521.2 226.8,513.7 226.8,495.1" fill="#D5E5D9" stroke="#D5E5D9" stroke-width="0.5"/>
<polygon points="280.0,513.7 293.4,521.2 293.4,539.8 280.0,547.3 266.7,539.8 266.7,521.2" fill="#FFF0D0" stroke="#FFF0D0" stroke-width="0.5"/>
<polygon points="240.1,539.8 253.4,547.3 253.4,565.8 240.1,573.3 226.8,565.8 226.8,547.3" fill="#B4D2BC" stroke="#B4D2BC" stroke-width="0.5"/>
<polygon points="67.0,253.0 80.3,260.5 80.3,262.5 53.7,262.5 53.7,260.5" fill="#FDFDFD" stroke="#FDFDFD" stroke-width="0.3"/>
<polygon points="93.6,253.0 106.9,260.5 106.9,262.5 80.3,262.5 80.3,260.5" fill="#5DA080" stroke="#5DA080" stroke-width="0.3"/>
<polygon points="146.9,253.0 160.2,260.5 160.2,262.5 133.6,262.5 133.6,260.5" fill="#6FA787" stroke="#6FA787" stroke-width="0.3"/>
<polygon points="173.5,253.0 186.8,260.5 186.8,262.5 160.2,262.5 160.2,260.5" fill="#C8DDCD" stroke="#C8DDCD" stroke-width="0.3"/>
<polygon points="200.2,253.0 213.5,260.5 213.5,262.5 186.8,262.5 186.8,260.5" fill="#C8DDCD" stroke="#C8DDCD" stroke-width="0.3"/>
<polygon points="226.8,253.0 240.1,260.5 240.1,262.5 213.5,262.5 213.5,260.5" fill="#D5E5D9" stroke="#D5E5D9" stroke-width="0.3"/>
</g>
<rect x="308.4" y="570.3" width="190" height="13" fill="#fff" fill-opacity="0.8"/>
<rect x="311.6" y="574.4" width="7.8" height="2.8" fill="#4C7BE1"/><rect x="311.6" y="577.2" width="7.8" height="2.8" fill="#FFD500"/>
<g font-size="8.3">
<text x="321.2" y="579.6" fill="#0078A8" textLength="24.6" lengthAdjust="spacingAndGlyphs">Leaflet</text>
<text x="347.6" y="579.6" fill="#333" textLength="10.8" lengthAdjust="spacingAndGlyphs">| ©</text>
<text x="359.9" y="579.6" fill="#0078A8" textLength="55" lengthAdjust="spacingAndGlyphs">OpenStreetMap</text>
<text x="417.1" y="579.6" fill="#333" textLength="49.4" lengthAdjust="spacingAndGlyphs">contributors ©</text>
<text x="468.3" y="579.6" fill="#0078A8" textLength="26.8" lengthAdjust="spacingAndGlyphs">CARTO</text>
</g>
</g>
<rect x="68.9" y="81.8" width="20.2" height="44.6" rx="2.2" fill="#fff" stroke="#9A9A9A" stroke-opacity="0.7" stroke-width="0.9"/>
<line x1="69.3" y1="103.5" x2="88.7" y2="103.5" stroke="#CCC" stroke-width="0.7"/>
<path d="M75 93.1 H83 M79 89.1 V97.1 M75.5 115.1 H83.5" stroke="#3A3340" stroke-width="1.5" fill="none"/>
</svg>
<svg width="1024" height="683" viewBox="0 0 1024 683">
<defs><clipPath id="pclip"><rect x="510" y="66.9" width="514" height="547.7"/></clipPath></defs>
<g clip-path="url(#pclip)">
<rect x="514.5" y="66.9" width="1.7" height="548" fill="#C6C6C6"/><rect x="516.2" y="66.9" width="4.8" height="548" fill="#E3E3E3"/>
<path d="M540.6 114.8 V82.3 a5.2 5.2 0 0 1 5.2 -5.2 H587.9 a5.2 5.2 0 0 1 5.2 5.2 V114.8 Z" fill="#CACACA"/>
<path d="M598.3 114.8 V82.3 a5.2 5.2 0 0 1 5.2 -5.2 H651.9 a5.2 5.2 0 0 1 5.2 5.2 V114.8 Z" fill="#F3F3F3"/>
<text x="551.6" y="101.3" font-size="14" fill="#2E2A38" textLength="30.2" lengthAdjust="spacingAndGlyphs">DATA</text>
<text x="609.5" y="101.3" font-size="14" fill="#2E2A38" textLength="35.8" lengthAdjust="spacingAndGlyphs">STATS</text>
<text x="545.7" y="160.1" font-size="17.2" font-weight="bold" fill="#2E2A38" textLength="184.8" lengthAdjust="spacingAndGlyphs">Zonal RPMS / Fuelcast Data</text>
<line x1="548.7" y1="188.0" x2="567.6" y2="188.0" stroke="#FFC107" stroke-width="1.4"/>
<line x1="548.7" y1="203.6" x2="567.6" y2="203.6" stroke="#DC3545" stroke-width="1.4"/>
<text x="571.7" y="191.7" font-size="10.3" fill="#444" textLength="37" lengthAdjust="spacingAndGlyphs">Fuelcast</text>
<text x="571.7" y="207.3" font-size="10.3" fill="#444" textLength="25.5" lengthAdjust="spacingAndGlyphs">RPMS</text>
<text x="751.2" y="199.3" font-size="14.4" fill="#444" textLength="44" lengthAdjust="spacingAndGlyphs">Zone 1</text>
<polygon points="618.2,251.8 633.6,254.5 648.9,249.0 664.2,254.0 679.5,250.8 694.9,252.0 710.2,257.2 725.5,254.5 740.9,255.2 756.2,259.2 771.5,249.5 786.8,241.8 802.1,243.6 817.5,238.8 832.8,244.5 848.1,242.0 863.5,248.0 878.8,245.5 894.1,243.8 909.4,246.2 924.8,237.2 940.1,246.0 955.4,244.0 970.7,345.0 970.7,453.8 955.4,418.2 940.1,431.2 924.8,424.2 909.4,422.2 894.1,420.8 878.8,416.2 863.5,418.2 848.1,421.2 832.8,423.8 817.5,423.8 802.1,423.1 786.8,417.0 771.5,419.5 756.2,427.0 740.9,426.2 725.5,425.2 710.2,422.2 694.9,419.0 679.5,423.0 664.2,423.0 648.9,425.2 633.6,426.2 618.2,423.8" fill="#E0E0DC"/>
<g stroke="#000" stroke-opacity="0.075" stroke-width="0.8">
<line x1="618.2" y1="423.9" x2="973" y2="423.9"/>
<line x1="618.2" y1="392.2" x2="973" y2="392.2"/>
<line x1="618.2" y1="360.4" x2="973" y2="360.4"/>
<line x1="618.2" y1="328.7" x2="973" y2="328.7"/>
<line x1="618.2" y1="296.9" x2="973" y2="296.9"/>
<line x1="618.2" y1="265.1" x2="973" y2="265.1"/>
<line x1="618.2" y1="233.4" x2="973" y2="233.4"/>
<line x1="695.00" y1="225" x2="695.00" y2="467.5"/>
<line x1="771.75" y1="225" x2="771.75" y2="467.5"/>
<line x1="848.00" y1="225" x2="848.00" y2="467.5"/>
<line x1="924.75" y1="225" x2="924.75" y2="467.5"/>
</g>
<line x1="618.2" y1="455.8" x2="973" y2="455.8" stroke="#9A9A9A" stroke-width="1.2"/>
<polyline points="618.2,337.5 633.6,340.5 648.9,337.2 664.2,338.5 679.5,337.0 694.9,335.5 710.2,339.8 725.5,340.2 740.9,341.0 756.2,343.5 771.5,334.0 786.8,329.4 802.1,333.2 817.5,331.2 832.8,334.0 848.1,331.5 863.5,333.0 878.8,330.5 894.1,332.2 909.4,334.2 924.8,330.5 940.1,338.8 955.4,331.0 970.7,400.0" fill="none" stroke="#CB4457" stroke-width="1.4" stroke-linejoin="round"/>
<g font-size="10.2" fill="#444">
<text x="614.6" y="459.3" text-anchor="end">0</text>
<text x="614.6" y="427.6" text-anchor="end">1000</text>
<text x="614.6" y="395.8" text-anchor="end">2000</text>
<text x="614.6" y="364.1" text-anchor="end">3000</text>
<text x="614.6" y="332.3" text-anchor="end">4000</text>
<text x="614.6" y="300.5" text-anchor="end">5000</text>
<text x="614.6" y="268.8" text-anchor="end">6000</text>
<text x="614.6" y="237.0" text-anchor="end">7000</text>
<text x="618.2" y="482.6" text-anchor="middle">2000</text>
<text x="694.9" y="482.6" text-anchor="middle">2005</text>
<text x="771.5" y="482.6" text-anchor="middle">2010</text>
<text x="848.1" y="482.6" text-anchor="middle">2015</text>
<text x="924.8" y="482.6" text-anchor="middle">2020</text>
</g>
<text x="795" y="502" font-size="12.4" fill="#444" textLength="30" lengthAdjust="spacingAndGlyphs">Years</text>
<text transform="translate(588,415.5) rotate(-90)" font-size="10.5" fill="#333" textLength="138.5" lengthAdjust="spacingAndGlyphs">Mean Pounds Per Acre</text>
<line x1="548.7" y1="519.5" x2="567.6" y2="519.5" stroke="#FFC107" stroke-width="1.4"/>
<line x1="548.7" y1="535.0" x2="567.6" y2="535.0" stroke="#DC3545" stroke-width="1.4"/>
<text x="571.7" y="523.2" font-size="10.3" fill="#444" textLength="37" lengthAdjust="spacingAndGlyphs">Fuelcast</text>
<text x="571.7" y="538.7" font-size="10.3" fill="#444" textLength="25.5" lengthAdjust="spacingAndGlyphs">RPMS</text>
<text x="751.2" y="530.5" font-size="14.4" fill="#444" textLength="44" lengthAdjust="spacingAndGlyphs">Zone 2</text>
<polygon points="618.2,595.5 633.6,598.2 648.9,592.0 664.2,583.2 679.5,592.8 694.9,568.8 710.2,590.0 725.5,600.0 740.9,599.8 756.2,599.5 771.5,583.2 786.8,582.2 802.1,593.5 817.5,591.8 832.8,596.8 848.1,583.2 863.5,582.0 878.8,581.0 894.1,595.0 909.4,582.8 924.8,591.2 940.1,610.0 955.4,608.5 956.0,620.0 618.2,620.0" fill="#E0E0DC"/>
<g stroke="#000" stroke-opacity="0.075" stroke-width="0.8">
<line x1="618.2" y1="588" x2="973" y2="588"/>
<line x1="695.00" y1="556.2" x2="695.00" y2="620"/>
<line x1="771.75" y1="556.2" x2="771.75" y2="620"/>
<line x1="848.00" y1="556.2" x2="848.00" y2="620"/>
<line x1="924.75" y1="556.2" x2="924.75" y2="620"/>
</g>
<text x="614.6" y="592.7" font-size="10.2" fill="#444" text-anchor="end">4000</text>
<text transform="translate(588,642.3) rotate(-90)" font-size="11" fill="#333" textLength="34" lengthAdjust="spacingAndGlyphs">Acre</text>
</g></svg>
</body></html>
